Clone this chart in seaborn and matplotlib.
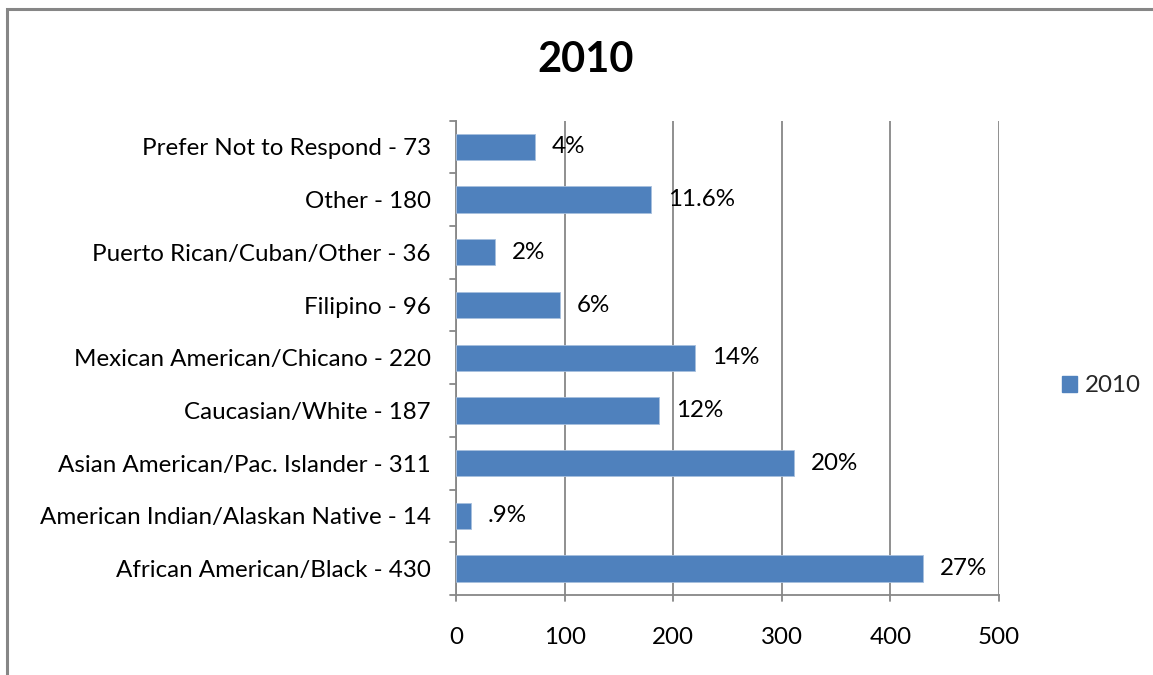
import matplotlib
matplotlib.use("Agg")
import matplotlib.pyplot as plt
import seaborn as sns
import pandas as pd
from matplotlib.patches import Rectangle, Patch

categories = [
    "Prefer Not to Respond - 73",
    "Other - 180",
    "Puerto Rican/Cuban/Other - 36",
    "Filipino - 96",
    "Mexican American/Chicano - 220",
    "Caucasian/White - 187",
    "Asian American/Pac. Islander - 311",
    "American Indian/Alaskan Native - 14",
    "African American/Black - 430",
]
values = [73, 180, 36, 96, 220, 187, 311, 14, 430]
pct_labels = ["4%", "11.6%", "2%", "6%", "14%", "12%", "20%", ".9%", "27%"]
x_ticks = [0, 100, 200, 300, 400, 500]
series_name = "2010"

sns.set_theme(style="white")
plt.rcParams["font.family"] = ["Lato", "DejaVu Sans"]

df = pd.DataFrame({"category": categories, "value": values})

fig = plt.figure(figsize=(11.53, 6.75), dpi=100)
ax = fig.add_axes([456 / 1153, 1 - 595 / 675, (999 - 456) / 1153, (595 - 120.5) / 675])

FS = 17.4
bar_color = "#4F81BD"
sns.barplot(data=df, x="value", y="category", orient="h", color=bar_color,
            width=0.5, edgecolor="#A7BFDE", linewidth=0.6, ax=ax, saturation=1, zorder=3)

ax.set_xlim(0, 500)
ax.set_ylim(len(categories) - 0.5, -0.5)
ax.set_xticks(x_ticks)
ax.set_xticklabels([str(t) for t in x_ticks], fontsize=FS)
ax.set_xlabel("")
ax.set_ylabel("")
ax.tick_params(axis="y", labelsize=FS, length=0, pad=18)
ax.tick_params(axis="x", length=0, pad=23)
for lbl in ax.get_yticklabels():
    lbl.set_color("black")
for lbl in ax.get_xticklabels():
    lbl.set_color("black")

grid_c = "#878787"
ax.grid(axis="x", color=grid_c, linewidth=1.3, zorder=0)
ax.grid(axis="y", visible=False)
for s in ["top", "right"]:
    ax.spines[s].set_visible(False)
for s in ["left", "bottom"]:
    ax.spines[s].set_visible(True)
    ax.spines[s].set_color(grid_c)
    ax.spines[s].set_linewidth(1.3)

# category boundary tick marks on y axis
for b in [i - 0.5 for i in range(len(categories) + 1)]:
    ax.plot([-0.011, 0], [b, b], transform=ax.get_yaxis_transform(),
            color=grid_c, lw=1.3, clip_on=False, zorder=4)
# x major tick marks below axis
for t in x_ticks:
    ax.plot([t, t], [0, -0.013], transform=ax.get_xaxis_transform(),
            color=grid_c, lw=1.3, clip_on=False, zorder=4)

# data labels
for i, (v, lab) in enumerate(zip(values, pct_labels)):
    ax.annotate(lab, xy=(v, i), xytext=(12, 0), textcoords="offset points",
                va="center", ha="left", fontsize=FS, color="black", zorder=5)

# title
fig.text(586 / 1153, 1 - 60 / 675, "2010", ha="center", va="center",
         fontsize=30, fontweight="bold", color="black")

# legend
handle = Patch(facecolor=bar_color, edgecolor=bar_color, label=series_name)
fig.legend(handles=[handle], loc="center left", bbox_to_anchor=(1050 / 1153, 1 - 386 / 675),
           frameon=False, fontsize=FS, handlelength=0.6, handleheight=0.6,
           handletextpad=0.35, borderpad=0)

# outer chart border (cropped on right/bottom)
fig.patches.append(Rectangle((7 / 1153, -0.1), 1.2, 1 - 9 / 675 + 0.1,
                             transform=fig.transFigure, fill=False,
                             edgecolor="#868686", linewidth=2.2))

fig.savefig("out.png", dpi=100)
